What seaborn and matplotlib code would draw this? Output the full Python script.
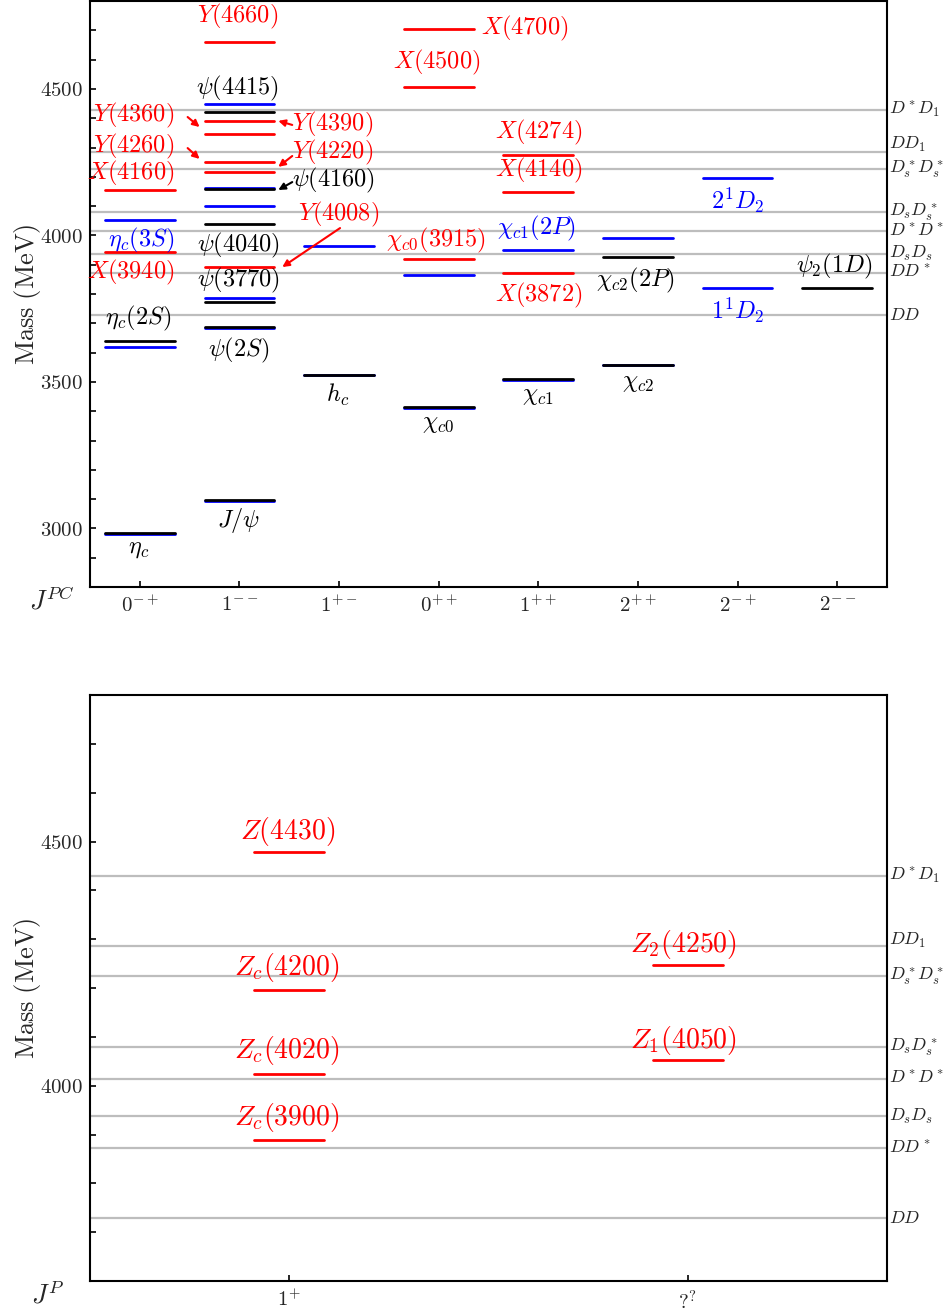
import matplotlib
matplotlib.use("Agg")
import matplotlib.pyplot as plt
import seaborn as sns
import pandas as pd

# ----- dados: painel de cima (charmonium por J^PC) -----
jpc_labels = [r'$0^{-+}$', r'$1^{--}$', r'$1^{+-}$', r'$0^{++}$',
              r'$1^{++}$', r'$2^{++}$', r'$2^{-+}$', r'$2^{--}$']

# previsões do modelo (azul)
model_col = [1, 1, 1, 2, 2, 2, 2, 2, 2, 3, 3, 4, 4, 5, 5, 6, 6, 7, 7]
model_mass = [4054, 3619, 2981, 4449, 4163, 4101, 3788, 3683, 3094,
              3963, 3522, 3865, 3411, 3951, 3508, 3992, 3558, 4197, 3821]

# estados convencionais observados (preto)
exp_col = [1, 1, 2, 2, 2, 2, 2, 2, 3, 4, 5, 6, 6, 8]
exp_mass = [3638, 2984, 4422, 4159, 4040, 3771, 3686, 3097,
            3525, 3414, 3511, 3927, 3556, 3822]

# estados exóticos XYZ (vermelho)
exo_col = [1, 1, 2, 2, 2, 2, 2, 2, 4, 4, 4, 5, 5, 5]
exo_mass = [4156, 3942, 4660, 4392, 4347, 4252, 4217, 3891,
            4705, 4506, 3918, 4275, 4147, 3870]

# ----- dados: painel de baixo (estados carregados Z) -----
jp_labels = [r'$1^{+}$', r'$?^{?}$']
z_col = [1, 1, 1, 1, 2, 2]
z_mass = [4478, 4196, 4024, 3889, 4248, 4052]

# limiares de mesons D
thr_names = [r'$DD$', r'$DD^*$', r'$D_sD_s$', r'$D^*D^*$', r'$D_sD_s^*$',
             r'$D_s^*D_s^*$', r'$DD_1$', r'$D^*D_1$']
thr_mass = [3730, 3872, 3937, 4014, 4080, 4225, 4286, 4429]

RED, BLUE, BLACK = '#ff0000', '#0000ff', 'black'

sns.set_theme(style='white')
plt.rcParams['mathtext.fontset'] = 'cm'
plt.rcParams['font.family'] = ['DejaVu Serif']


def segmentos(cols, masses, half):
    rows = []
    for i, (c, m) in enumerate(zip(cols, masses)):
        rows.append({'x': c - half, 'y': m, 'seg': i})
        rows.append({'x': c + half, 'y': m, 'seg': i})
    return pd.DataFrame(rows)


def desenha_niveis(ax, cols, masses, half, color):
    df = segmentos(cols, masses, half)
    sns.lineplot(data=df, x='x', y='y', units='seg', estimator=None,
                 sort=False, color=color, lw=2.0, ax=ax, zorder=3)


def prepara_eixo(ax, labels, yticks, ylim):
    n = len(labels)
    ax.set_xlim(0.5, n + 0.5)
    ax.set_ylim(*ylim)
    for m, name in zip(thr_mass, thr_names):
        ax.axhline(m, color='#bdbdbd', lw=1.6, zorder=1)
        # DD1 fica colado em Ds*Ds*, sobe um pouco o rótulo
        va = 'bottom' if name == r'$DD_1$' else 'center'
        ax.text(1.003, m - (8 if va == 'bottom' else 0), name,
                transform=ax.get_yaxis_transform(),
                ha='left', va=va, fontsize=13)
    ax.set_xticks(range(1, n + 1))
    ax.set_xticklabels(labels, fontsize=15)
    ax.set_yticks(yticks)
    ax.set_yticklabels([r'$%d$' % t for t in yticks], fontsize=15)
    ax.set_yticks(range(ylim[0] + 100, ylim[1], 100), minor=True)
    ax.tick_params(axis='both', which='both', direction='in', length=4,
                   width=1.2, color='black', left=True, bottom=True,
                   right=False, top=False)
    ax.tick_params(axis='x', pad=6)
    ax.tick_params(axis='y', pad=5)
    for s in ax.spines.values():
        s.set_linewidth(1.5)
        s.set_color('black')
    ax.set_xlabel('')
    ax.set_ylabel(r'$\mathrm{Mass\ (MeV)}$', fontsize=19, labelpad=-2)


fig = plt.figure(figsize=(9.49, 13.15), dpi=100)
ax1 = fig.add_axes([90 / 949, 1 - 587 / 1315, 797 / 949, 586 / 1315])
ax2 = fig.add_axes([90 / 949, 1 - 1281 / 1315, 797 / 949, 586 / 1315])

# ----- painel de cima -----
desenha_niveis(ax1, model_col, model_mass, 0.35, BLUE)
desenha_niveis(ax1, exp_col, exp_mass, 0.35, BLACK)
desenha_niveis(ax1, exo_col, exo_mass, 0.35, RED)
prepara_eixo(ax1, jpc_labels, [3000, 3500, 4000, 4500], (2800, 4800))

rotulos_cima = [
    (r'$Y(4660)$', 1.98, 4746, 'center', RED),
    (r'$\psi(4415)$', 1.98, 4503, 'center', BLACK),
    (r'$Y(4360)$', 1.35, 4411, 'right', RED),
    (r'$Y(4260)$', 1.35, 4302, 'right', RED),
    (r'$X(4160)$', 1.35, 4210, 'right', RED),
    (r'$\eta_c(3S)$', 1.35, 3984, 'right', BLUE),
    (r'$X(3940)$', 1.35, 3875, 'right', RED),
    (r'$\eta_c(2S)$', 0.98, 3718, 'center', BLACK),
    (r'$\eta_c$', 0.99, 2932, 'center', BLACK),
    (r'$J/\psi$', 1.99, 3028, 'center', BLACK),
    (r'$\psi(2S)$', 1.99, 3608, 'center', BLACK),
    (r'$\psi(3770)$', 1.99, 3847, 'center', BLACK),
    (r'$\psi(4040)$', 1.99, 3967, 'center', BLACK),
    (r'$Y(4390)$', 2.53, 4378, 'left', RED),
    (r'$Y(4220)$', 2.53, 4283, 'left', RED),
    (r'$\psi(4160)$', 2.53, 4186, 'left', BLACK),
    (r'$Y(4008)$', 3.0, 4073, 'center', RED),
    (r'$\chi_{c0}(3915)$', 3.97, 3984, 'center', RED),
    (r'$X(4700)$', 4.42, 4708, 'left', RED),
    (r'$X(4500)$', 3.98, 4589, 'center', RED),
    (r'$X(4274)$', 5.0, 4353, 'center', RED),
    (r'$X(4140)$', 5.0, 4223, 'center', RED),
    (r'$\chi_{c1}(2P)$', 4.98, 4025, 'center', BLUE),
    (r'$X(3872)$', 5.0, 3796, 'center', RED),
    (r'$\chi_{c2}(2P)$', 5.98, 3847, 'center', BLACK),
    (r'$2^1D_2$', 7.0, 4121, 'center', BLUE),
    (r'$1^1D_2$', 7.0, 3745, 'center', BLUE),
    (r'$\psi_2(1D)$', 7.97, 3895, 'center', BLACK),
    (r'$h_c$', 2.99, 3455, 'center', BLACK),
    (r'$\chi_{c0}$', 3.99, 3359, 'center', BLACK),
    (r'$\chi_{c1}$', 5.0, 3455, 'center', BLACK),
    (r'$\chi_{c2}$', 6.0, 3499, 'center', BLACK),
]
for txt, x, y, ha, cor in rotulos_cima:
    ax1.text(x, y, txt, ha=ha, va='center', color=cor, fontsize=17.5,
             zorder=5)

# setas (cauda -> ponta)
setas = [
    ((1.48, 4404), (1.60, 4370), RED),
    ((1.48, 4298), (1.60, 4261), RED),
    ((2.53, 4377), (2.39, 4391), RED),
    ((2.53, 4271), (2.39, 4234), RED),
    ((2.53, 4182), (2.39, 4155), BLACK),
    ((3.01, 4025), (2.43, 3892), RED),
]
for cauda, ponta, cor in setas:
    ax1.annotate('', xy=ponta, xytext=cauda,
                 arrowprops=dict(arrowstyle='-|>', color=cor, lw=1.5,
                                 mutation_scale=10, shrinkA=0, shrinkB=0),
                 zorder=5)

# ----- painel de baixo -----
desenha_niveis(ax2, z_col, z_mass, 0.0875, RED)
prepara_eixo(ax2, jp_labels, [4000, 4500], (3600, 4800))

rotulos_baixo = [
    (r'$Z(4430)$', 0.995, 4520),
    (r'$Z_c(4200)$', 0.995, 4242),
    (r'$Z_c(4020)$', 0.995, 4071),
    (r'$Z_c(3900)$', 0.995, 3935),
    (r'$Z_2(4250)$', 1.99, 4289),
    (r'$Z_1(4050)$', 1.99, 4092),
]
for txt, x, y in rotulos_baixo:
    ax2.text(x, y, txt, ha='center', va='center', color=RED, fontsize=20,
             zorder=5)

fig.text(52 / 949, 1 - 600 / 1315, r'$J^{PC}$', ha='center', va='center',
         fontsize=19)
fig.text(48 / 949, 1 - 1295 / 1315, r'$J^{P}$', ha='center', va='center',
         fontsize=19)

fig.savefig('out.png', dpi=100)
